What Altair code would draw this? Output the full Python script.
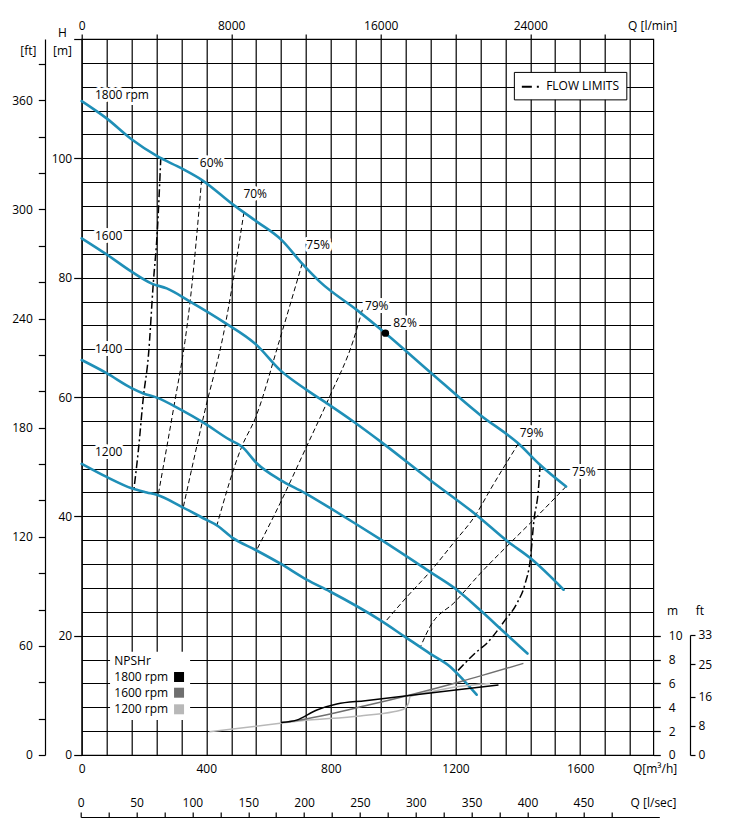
import altair as alt
import pandas as pd

FONT = "Open Sans"
QMAX = 1835.0          # m3/h at right border of grid
HMAX = 120.0           # m at top border of grid
W = 571.6
HP = 716.0
BLUE = "#1f8fb7"

# ---------------- pump curves: Q [m3/h], H [m] ----------------
q1800 = [0, 80, 160, 241, 321, 385, 487, 562, 642, 707, 765, 883, 975, 1118, 1279, 1402, 1472, 1555]
h1800 = [109.6, 106.7, 103.2, 100.4, 98.3, 96.4, 92.2, 89.4, 86.3, 82.4, 79.3, 74.6, 70.7, 64.2, 57.0, 52.2, 48.6, 45.0]
q1600 = [0, 80, 160, 225, 273, 348, 455, 562, 637, 722, 797, 872, 963, 1118, 1268, 1370, 1440, 1547]
h1600 = [86.6, 83.9, 81.0, 79.0, 78.2, 76.0, 72.6, 68.7, 64.5, 61.2, 58.6, 55.9, 52.4, 46.1, 40.2, 35.7, 33.0, 27.7]
q1400 = [0, 80, 160, 198, 241, 321, 391, 476, 514, 562, 637, 717, 797, 878, 963, 1118, 1199, 1279, 1354, 1431]
h1400 = [66.2, 64.0, 61.5, 60.6, 59.9, 57.8, 55.7, 52.8, 51.7, 48.9, 46.1, 43.9, 41.4, 38.8, 36.0, 30.7, 27.9, 24.3, 20.7, 17.0]
q1200 = [0, 80, 160, 209, 241, 321, 401, 434, 487, 557, 637, 722, 797, 958, 1038, 1118, 1183, 1225, 1268]
h1200 = [48.8, 46.6, 44.7, 44.0, 43.6, 41.6, 39.4, 38.5, 36.3, 34.4, 32.1, 29.4, 27.4, 22.6, 19.8, 17.0, 14.8, 12.6, 10.1]

# ---------------- iso-efficiency lines ----------------
e60_q = [385, 348, 332, 298, 246]
e60_h = [96.4, 76.0, 69.5, 59.0, 43.7]
e70_q = [521, 455, 396, 326]
e70_h = [91.0, 70.5, 57.8, 41.5]
e75l_q = [708, 635, 557, 514, 434]
e75l_h = [82.4, 69.5, 56.4, 51.7, 38.5]
e79l_q = [901, 872, 797, 722, 637, 562]
e79l_h = [74.6, 69.5, 60.2, 51.7, 42.2, 34.4]
e79r_q = [1402, 1311, 1268, 1193, 1118, 1044, 979]
e79r_h = [52.2, 44.4, 40.5, 35.5, 30.7, 26.5, 22.6]
e75r_q = [1555, 1456, 1375, 1279, 1199, 1118, 1089]
e75r_h = [45.0, 39.7, 35.5, 30.4, 25.7, 21.5, 18.3]

# ---------------- flow limits ----------------
fl_left_q = [254, 243, 230, 214, 198, 182, 168]
fl_left_h = [100.2, 88.0, 79.2, 66.8, 60.0, 51.1, 44.7]
fl_right_q = [1472, 1466, 1452, 1440, 1424, 1397, 1359, 1300, 1268, 1205]
fl_right_h = [48.8, 44.4, 39.4, 32.7, 28.8, 25.4, 22.6, 18.7, 17.3, 14.0]

# best efficiency point
bep_q = [975]
bep_h = [70.7]

# ---------------- NPSHr: Q [m3/h], NPSH [m] ----------------
n1800_q = [640, 690, 755, 819, 910, 1338]
n1800_n = [2.72, 2.92, 3.77, 4.27, 4.55, 5.87]
n1600_q = [640, 690, 910, 1054, 1215, 1418]
n1600_n = [2.72, 2.90, 4.12, 5.03, 6.14, 7.68]
n1200_q = [410, 637, 700, 894, 1001, 1033, 1049, 1054, 1130, 1204, 1311]
n1200_n = [1.95, 2.66, 2.85, 3.27, 3.63, 3.83, 4.33, 4.89, 5.35, 5.72, 6.0]

# ---------------- annotations ----------------
eff_text = ["60%", "70%", "75%", "79%", "82%", "79%", "75%"]
eff_text_q = [417, 557, 759, 947, 1038, 1444, 1612]
eff_text_h = [99.3, 94.1, 85.4, 75.3, 72.4, 54.0, 47.5]
rpm_text = ["1800 rpm", "1600", "1400", "1200"]
rpm_text_q = [42.7, 42.7, 42.7, 42.7]
rpm_text_h = [110.6, 86.9, 68.0, 50.7]
axis_titles = ["H", "[m]", "[ft]"]

# ---------------- axis tick values ----------------
grid_q = list(range(0, 1761, 80))
grid_h = list(range(0, 121, 4))
lmin_ticks = list(range(0, 28001, 4000))
lsec_ticks = list(range(0, 476, 25))
ft_left_ticks = list(range(0, 381, 20))
npsh_m_ticks = [0, 2, 4, 6, 8, 10]
npsh_ft_ticks = [0, 8, 16, 25, 33]


def long(name, qs, hs, col="H"):
    return [{"name": name, "Q": q, col: h, "i": i} for i, (q, h) in enumerate(zip(qs, hs))]


curves = pd.DataFrame(long("1800", q1800, h1800) + long("1600", q1600, h1600)
                      + long("1400", q1400, h1400) + long("1200", q1200, h1200))
effs = pd.DataFrame(long("60", e60_q, e60_h) + long("70", e70_q, e70_h) + long("75l", e75l_q, e75l_h)
                    + long("79l", e79l_q, e79l_h) + long("79r", e79r_q, e79r_h) + long("75r", e75r_q, e75r_h))
flows = pd.DataFrame(long("left", fl_left_q, fl_left_h) + long("right", fl_right_q, fl_right_h))
bep = pd.DataFrame({"Q": bep_q, "H": bep_h})
eff_lab = pd.DataFrame({"Q": eff_text_q, "H": eff_text_h, "t": eff_text})
rpm_lab = pd.DataFrame({"Q": rpm_text_q, "H": rpm_text_h, "t": rpm_text})

# legends (positions in chart units)
flow_box = pd.DataFrame({"Q": [1389], "Q2": [1750], "H": [109.8], "H2": [114.4]})
flow_sym = pd.DataFrame({"Q": [1413], "Q2": [1472], "H": [112.0]})
flow_txt = pd.DataFrame({"Q": [1491], "H": [112.1], "t": ["FLOW LIMITS"]})
npsh_box = pd.DataFrame({"Q": [91], "Q2": [348], "H": [5.87], "H2": [17.3]})
npsh_txt = pd.DataFrame({"Q": [104.7] * 4, "H": [15.75, 13.12, 10.44, 7.66],
                         "t": ["NPSHr", "1800 rpm", "1600 rpm", "1200 rpm"]})
npsh_sq = pd.DataFrame({"Q": [312.5] * 3, "H": [13.07, 10.44, 7.66], "c": ["1800", "1600", "1200"]})

gray_scale = alt.Scale(domain=["1800", "1600", "1200"], range=["#000000", "#6f6f6f", "#b8b8b8"])

# ---------------- main scales / axes ----------------
x_axis = alt.Axis(orient="bottom", values=grid_q, grid=True, domain=False, ticks=False, tickSize=0,
                  format="d", labelExpr="datum.value % 400 === 0 ? datum.label : ''",
                  labelPadding=14, labelBaseline="middle",
                  title="Q[m³/h]", titleX=595, titleY=14, titleAlign="right", titleBaseline="middle")
y_axis = alt.Axis(orient="left", values=grid_h, grid=True, domain=False, ticks=True, tickSize=8,
                  tickOpacity={"condition": {"test": "datum.value % 20 === 0", "value": 1}, "value": 0},
                  format="d", labelExpr="datum.value % 20 === 0 && datum.value < 120 ? datum.label : ''",
                  labelPadding=2, labelBaseline="middle", title=None)
xs = alt.Scale(domain=[0, QMAX], nice=False, zero=False)
ys = alt.Scale(domain=[0, HMAX], nice=False, zero=False)
X = alt.X("Q:Q", scale=xs, axis=x_axis)
Y = alt.Y("H:Q", scale=ys, axis=y_axis)
X2 = alt.X2("Q2:Q")
Y2 = alt.Y2("H2:Q")

pump = alt.Chart(curves).mark_line(color=BLUE, strokeWidth=2.6, strokeCap="round",
                                   interpolate="monotone").encode(
    x=X, y=Y, detail="name:N", order="i:Q")
eff = alt.Chart(effs).mark_line(color="#000", strokeWidth=1, strokeDash=[5, 3], interpolate="monotone").encode(
    x=X, y=Y, detail="name:N", order="i:Q")
flow = alt.Chart(flows).mark_line(color="#000", strokeWidth=1.5, strokeDash=[8, 3, 2, 3],
                                  interpolate="monotone").encode(
    x=X, y=Y, detail="name:N", order="i:Q")
dot = alt.Chart(bep).mark_point(filled=True, color="#000", size=55, opacity=1).encode(x=X, y=Y)

halo_kw = dict(font=FONT, fontSize=12, stroke="white", strokeWidth=6, strokeJoin="round", color="white")
eff_halo = alt.Chart(eff_lab).mark_text(align="center", baseline="middle", **halo_kw).encode(x=X, y=Y, text="t:N")
eff_txt = alt.Chart(eff_lab).mark_text(align="center", baseline="middle", font=FONT, fontSize=12, color="#000").encode(
    x=X, y=Y, text="t:N")
rpm_halo = alt.Chart(rpm_lab).mark_text(align="left", baseline="middle", **halo_kw).encode(x=X, y=Y, text="t:N")
rpm_txt = alt.Chart(rpm_lab).mark_text(align="left", baseline="middle", font=FONT, fontSize=12, color="#000").encode(
    x=X, y=Y, text="t:N")

fbox = alt.Chart(flow_box).mark_rect(fill="white", stroke="#000", strokeWidth=1).encode(x=X, x2=X2, y=Y, y2=Y2)
fsym = alt.Chart(flow_sym).mark_rule(color="#000", strokeWidth=2, strokeDash=[10, 5, 2, 5]).encode(x=X, x2=X2, y=Y)
ftxt = alt.Chart(flow_txt).mark_text(align="left", baseline="middle", font=FONT, fontSize=12, color="#000").encode(
    x=X, y=Y, text="t:N")
nbox = alt.Chart(npsh_box).mark_rect(fill="white", strokeWidth=0).encode(x=X, x2=X2, y=Y, y2=Y2)
ntxt = alt.Chart(npsh_txt).mark_text(align="left", baseline="middle", font=FONT, fontSize=12, color="#000").encode(
    x=X, y=Y, text="t:N")
nsq = alt.Chart(npsh_sq).mark_square(size=100, opacity=1).encode(
    x=X, y=Y, color=alt.Color("c:N", scale=gray_scale, legend=None))

# axis headings left of the plot (pixel placement relative to plot origin)
title_df = pd.DataFrame({"t": axis_titles, "px": [-19.2, -19.2, -53.4], "py": [-5.7, 11.5, 11.5]})
titles = alt.Chart(title_df).mark_text(align="center", baseline="middle", font=FONT, fontSize=12,
                                       color="#000").encode(
    text="t:N", x=alt.X("px:Q", scale=None), y=alt.Y("py:Q", scale=None))

main = alt.layer(eff, flow, pump, dot, eff_halo, eff_txt, rpm_halo, rpm_txt,
                 fbox, fsym, ftxt, nbox, ntxt, nsq, titles)

# ---------------- NPSHr curves (own y scale in NPSH metres) ----------------
n_axis = alt.Axis(orient="right", values=npsh_m_ticks, domain=False, tickSize=7, labelPadding=8,
                  labelBaseline="middle", labelAlign="left", format="d",
                  title="m", titleAngle=0, titleX=18.7, titleY=571.7, titleAlign="center", titleBaseline="middle")
NX = alt.X("Q:Q", scale=xs, axis=None)
NY = alt.Y("N:Q", scale=alt.Scale(domain=[0, 10], range=[HP, HP - 10 * 2 * HP / HMAX], nice=False, zero=False),
           axis=n_axis)
npsh_layers = []
for name, qs, ns, col in [("1200", n1200_q, n1200_n, "#b8b8b8"), ("1600", n1600_q, n1600_n, "#6f6f6f"),
                          ("1800", n1800_q, n1800_n, "#000000")]:
    npsh_layers.append(alt.Chart(pd.DataFrame(long(name, qs, ns, col="N"))).mark_line(
        color=col, strokeWidth=1.5, interpolate="monotone").encode(x=NX, y=NY, order="i:Q"))
npsh = alt.layer(*npsh_layers)

# ---------------- secondary axes ----------------
top = alt.Chart(pd.DataFrame({"lmin": lmin_ticks})).mark_point(opacity=0).encode(
    x=alt.X("lmin:Q", scale=alt.Scale(domain=[0, QMAX * 1000 / 60], nice=False, zero=False),
            axis=alt.Axis(orient="top", values=lmin_ticks, format="d", domain=False, tickSize=5,
                          labelExpr="datum.value % 8000 === 0 ? datum.label : ''",
                          labelPadding=8.3, labelBaseline="middle",
                          title="Q [l/min]", titleX=595, titleY=-13.3, titleAlign="right",
                          titleBaseline="middle")))

lsec = alt.Chart(pd.DataFrame({"lsec": lsec_ticks})).mark_point(opacity=0).encode(
    x=alt.X("lsec:Q", scale=alt.Scale(domain=[0, 518], range=[-1, 577.6], nice=False, zero=False),
            axis=alt.Axis(orient="top", offset=-778, values=lsec_ticks, format="d", domain=True, tickSize=5,
                          labelExpr="datum.value % 50 === 0 ? datum.label : ''",
                          labelPadding=9.3, labelBaseline="middle",
                          title="Q [l/sec]", titleX=594.3, titleY=-14.3, titleAlign="right",
                          titleBaseline="middle")))

ftl = alt.Chart(pd.DataFrame({"ft": ft_left_ticks})).mark_point(opacity=0).encode(
    y=alt.Y("ft:Q", scale=alt.Scale(domain=[0, HMAX / 0.3048], nice=False, zero=False),
            axis=alt.Axis(orient="left", offset=36.7, values=ft_left_ticks, format="d", domain=True,
                          tickSize=6.7, labelPadding=6, labelBaseline="middle",
                          labelExpr="datum.value % 60 === 0 ? datum.label : ''", title=None)))

nft = alt.Chart(pd.DataFrame({"nft": npsh_ft_ticks})).mark_point(opacity=0).encode(
    y=alt.Y("nft:Q", scale=alt.Scale(domain=[0, 33], range=[HP, HP - 33 * 0.3048 * 2 * HP / HMAX],
                                     nice=False, zero=False),
            axis=alt.Axis(orient="right", offset=36.7, values=npsh_ft_ticks, format="d", domain=True,
                          tickSize=5, labelPadding=3, labelBaseline="middle", labelAlign="left",
                          title="ft", titleAngle=0, titleX=9.5, titleY=571.7, titleAlign="center",
                          titleBaseline="middle")))

chart = alt.layer(main, npsh, top, lsec, ftl, nft).resolve_scale(
    x="independent", y="independent"
).properties(
    width=W, height=HP,
    autosize=alt.AutoSizeParams(type="none"),
    padding={"left": 73.7, "top": 31, "right": 70, "bottom": 72},
    background="white",
).configure_view(
    stroke="#000", strokeWidth=1.2
).configure_axis(
    labelFont=FONT, labelFontSize=12, labelColor="#000",
    titleFont=FONT, titleFontSize=12, titleFontWeight="normal", titleColor="#000",
    tickColor="#000", tickWidth=1.2, domainColor="#000", domainWidth=1.2,
    gridColor="#000", gridOpacity=1, gridWidth=1.2,
    labelFlush=False, labelOverlap=False, labelBound=False,
)

chart.save("out.html", embed_options={"renderer": "svg", "actions": False})
